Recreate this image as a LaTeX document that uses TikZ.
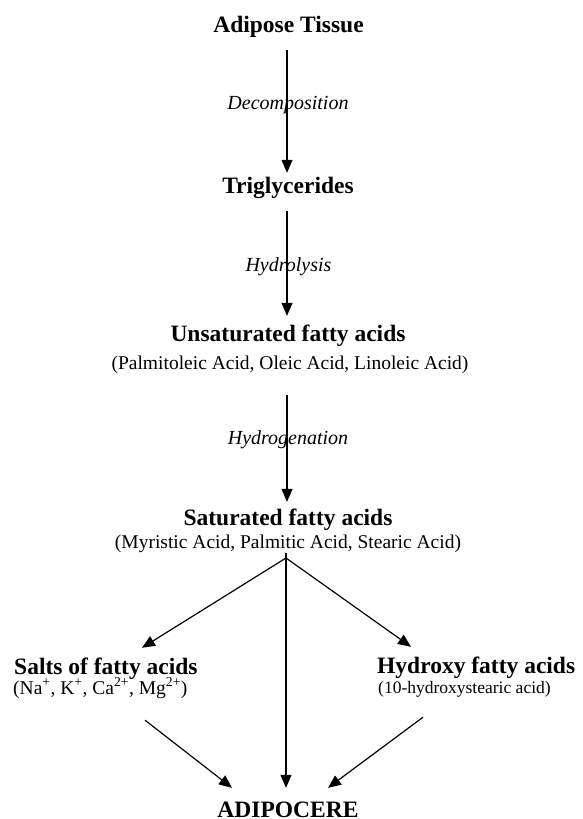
\documentclass[tikz,border=0pt]{standalone}
\usepackage{fontspec}
\setmainfont{Liberation Serif}
\usetikzlibrary{arrows.meta}
\begin{document}
\begin{tikzpicture}[x=1pt,y=-1pt,
  title/.style={font=\fontsize{23.5}{26}\selectfont\bfseries, inner sep=0pt, text height=17pt, text depth=5pt},
  sub/.style={font=\fontsize{19.5}{22}\selectfont, inner sep=0pt, text height=14pt, text depth=5pt},
  subsmall/.style={font=\fontsize{17.5}{20}\selectfont, inner sep=0pt, text height=14pt, text depth=5pt},
  proc/.style={font=\fontsize{20}{22}\selectfont\itshape, inner sep=1pt, fill=white, fill opacity=0, text opacity=1},
  arr/.style={line width=1.2pt, -{Triangle[length=13pt,width=11pt]}}]
\useasboundingbox (0,0) rectangle (583,819);

% nodes
\node[title, anchor=base] (adipose) at (288.5,32) {Adipose Tissue};
\node[title, anchor=base] (trig) at (288,193) {Triglycerides};
\node[title, anchor=base] (unsat) at (288,341) {Unsaturated fatty acids};
\node[sub, anchor=base] (unsatsub) at (290,369) {(Palmitoleic Acid, Oleic Acid, Linoleic Acid)};
\node[title, anchor=base] (sat) at (288,525) {Saturated fatty acids};
\node[sub, anchor=base] (satsub) at (288,548) {(Myristic Acid, Palmitic Acid, Stearic Acid)};
\node[title, anchor=base west] (salts) at (14,674) {Salts of fatty acids};
\node[sub, anchor=base west] (saltssub) at (13,694) {(Na\textsuperscript{+}, K\textsuperscript{+}, Ca\textsuperscript{2+}, Mg\textsuperscript{2+})};
\node[title, anchor=base west] (hyd) at (377,673) {Hydroxy fatty acids};
\node[subsmall, anchor=base west] (hydsub) at (378,693) {(10-hydroxystearic acid)};
\node[title, anchor=base] (adipocere) at (288,817) {ADIPOCERE};

\coordinate (branch) at (286,558);

% main chain
\draw[arr, shorten <=13pt, shorten >=3pt] ([xshift=-1.5pt]adipose.south) -- ([xshift=-1pt]trig.north);
\draw[arr, shorten <=13pt, shorten >=8pt] ([xshift=-1pt]trig.south) -- ([xshift=-1pt]unsat.north);
\draw[arr, shorten <=21pt, shorten >=6pt] ([xshift=-3pt]unsatsub.south) -- ([xshift=-1pt]sat.north);

% process labels
\node[proc, anchor=base] (decomp) at (288,109) {Decomposition};
\node[proc, anchor=base] (hydro) at (288.5,271) {Hydrolysis};
\node[proc, anchor=base] (hydrog) at (288,444) {Hydrogenation};

% branches
\draw[line width=1.2pt] ([xshift=-2pt]satsub.south) -- (branch);
\draw[arr] (branch) -- ([xshift=128pt,yshift=9pt]salts.north west);
\draw[arr] (branch) -- ([xshift=34pt,yshift=9pt]hyd.north west);
\draw[arr] (branch) -- ([xshift=-2pt,yshift=12pt]adipocere.north);

% to adipocere
\draw[arr] ([xshift=132pt,yshift=-21pt]saltssub.south west) -- ([xshift=-56pt,yshift=12pt]adipocere.north);
\draw[arr] ([xshift=45pt,yshift=-19pt]hydsub.south west) -- ([xshift=40pt,yshift=12pt]adipocere.north);
\end{tikzpicture}
\end{document}
